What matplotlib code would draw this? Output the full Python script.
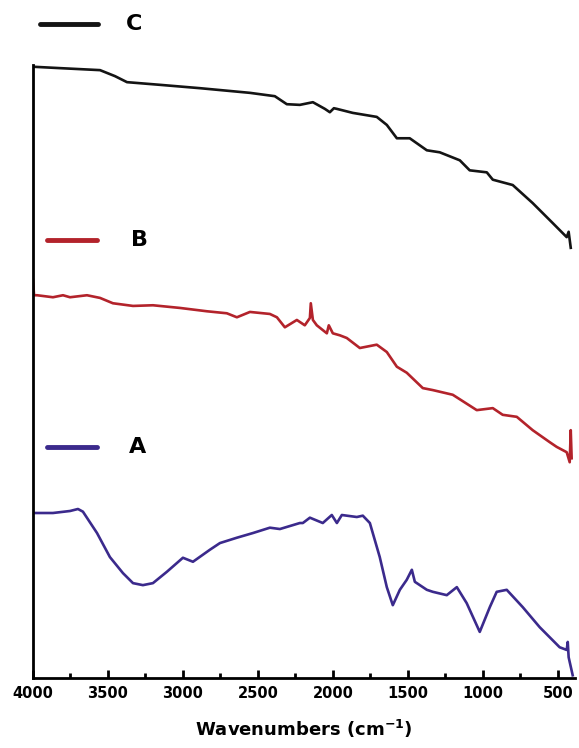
import numpy as np
import matplotlib
matplotlib.use("Agg")
import matplotlib.pyplot as plt
from matplotlib.ticker import MultipleLocator

# --- FTIR spectra (wavenumber in cm^-1, transmittance a.u.) ---
wn_c = [3993, 3820, 3553, 3453, 3373, 3153, 2887, 2553, 2387, 2307, 2220, 2133,
        2053, 2020, 1993, 1973, 1867, 1707, 1640, 1573, 1487, 1373, 1287, 1153,
        1087, 973, 933, 800, 667, 533, 440, 427, 413]
t_c = [91.5, 91.3, 91.0, 90.1, 89.2, 88.8, 88.3, 87.6, 87.1, 85.9, 85.8, 86.2,
       85.2, 84.7, 85.3, 85.2, 84.6, 84.0, 82.8, 80.8, 80.8, 79.0, 78.7, 77.5,
       76.0, 75.7, 74.6, 73.8, 71.1, 68.1, 66.0, 66.8, 64.4]

wn_b = [4000, 3993, 3973, 3867, 3800, 3753, 3640, 3553, 3467, 3333, 3200, 3020,
        2840, 2707, 2640, 2553, 2420, 2373, 2320, 2240, 2187, 2153, 2147, 2133,
        2107, 2040, 2027, 2000, 1953, 1907, 1820, 1707, 1640, 1573, 1507, 1400,
        1333, 1200, 1040, 933, 867, 773, 667, 553, 507, 440, 420, 413, 407]
t_b = [59.6, 57.3, 57.3, 57.0, 57.3, 57.0, 57.3, 56.9, 56.1, 55.7, 55.8, 55.4,
       54.9, 54.6, 54.0, 54.8, 54.5, 54.0, 52.5, 53.6, 52.8, 53.9, 56.1, 53.6,
       52.8, 51.6, 52.8, 51.6, 51.3, 50.9, 49.4, 49.9, 48.8, 46.6, 45.7, 43.4,
       43.1, 42.4, 40.1, 40.4, 39.4, 39.1, 37.1, 35.3, 34.6, 33.8, 32.3, 37.1, 32.9]

wn_a = [3987, 3867, 3753, 3700, 3667, 3573, 3487, 3400, 3333, 3267, 3200, 3107,
        3000, 2933, 2820, 2753, 2640, 2533, 2420, 2353, 2220, 2200, 2153, 2067,
        2007, 1973, 1940, 1840, 1800, 1753, 1687, 1640, 1600, 1553, 1507, 1473,
        1453, 1373, 1333, 1240, 1173, 1107, 1020, 953, 907, 840, 733, 620, 487,
        440, 433, 427, 400]
t_a = [24.7, 24.7, 25.0, 25.3, 24.9, 21.7, 18.1, 15.7, 14.2, 13.9, 14.2, 15.9,
       18.0, 17.4, 19.2, 20.2, 21.0, 21.7, 22.5, 22.3, 23.2, 23.2, 24.0, 23.2,
       24.4, 23.2, 24.4, 24.1, 24.3, 23.2, 18.1, 13.6, 10.9, 13.2, 14.7, 16.2,
       14.4, 13.2, 12.9, 12.4, 13.6, 11.2, 6.9, 10.6, 12.9, 13.2, 10.6, 7.6, 4.6,
       4.2, 5.4, 3.1, 0.4]

labels = ["C", "B", "A"]
colors = ["#141414", "#b3232b", "#3b2a8c"]
# legend key positions in axes fraction (line start, line end, y, text x)
keys = [(0.013, 0.120, 0.979, 0.186),
        (0.026, 0.118, 0.656, 0.197),
        (0.026, 0.118, 0.346, 0.192)]

fig = plt.figure(figsize=(5.79, 7.48), dpi=100)
ax = fig.add_axes([0.057, 0.0936, 0.936, 0.893])

for wn, t, c in zip([wn_c, wn_b, wn_a], [t_c, t_b, t_a], colors):
    ax.plot(wn, t, color=c, lw=1.9, solid_joinstyle="round")

for lab, c, (x0, x1, y, xt) in zip(labels, colors, keys):
    ax.plot([x0, x1], [y, y], color=c, lw=3.5, transform=ax.transAxes,
            solid_capstyle="round", clip_on=False)
    ax.text(xt, y, lab, transform=ax.transAxes, fontsize=16, fontweight="bold",
            ha="center", va="center")

ax.set_xlim(4000, 385)
ax.set_ylim(0, 100)
ax.xaxis.set_major_locator(MultipleLocator(500))
ax.xaxis.set_minor_locator(MultipleLocator(250))
ax.set_xticks(np.arange(4000, 499, -500))
ax.tick_params(axis="x", which="major", direction="in", length=6, width=2,
               labelsize=10.5, pad=6)
ax.tick_params(axis="x", which="minor", direction="in", length=3.5, width=2)
for lbl in ax.get_xticklabels():
    lbl.set_fontweight("bold")
ax.set_yticks([])
ax.set_xlabel("Wavenumbers (cm$^{\\mathbf{-1}}$)", fontsize=13, fontweight="bold", labelpad=12)

for s in ["top", "right"]:
    ax.spines[s].set_visible(False)
ax.spines["left"].set_linewidth(2)
ax.spines["bottom"].set_linewidth(2)
ax.spines["left"].set_bounds(0, 91.8)

fig.savefig("out.png", dpi=100)
